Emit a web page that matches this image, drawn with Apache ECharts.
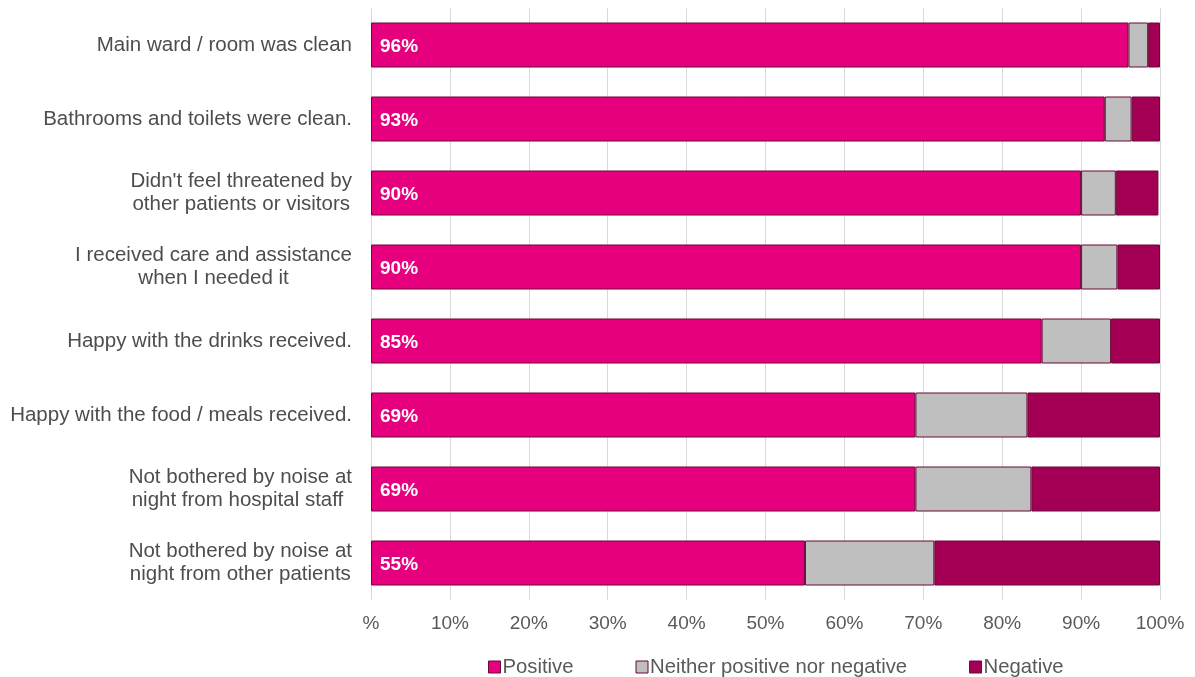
<!DOCTYPE html>
<html>
<head>
<meta charset="utf-8">
<script src="https://cdn.jsdelivr.net/npm/echarts@6/dist/echarts.min.js"></script>
<style>
  html, body { margin: 0; padding: 0; background: #ffffff; }
  #chart { width: 1195px; height: 677px; }
</style>
</head>
<body>
<div id="chart"></div>
<script>
// Survey statements, top to bottom
const categories = [
  "Main ward / room was clean",
  "Bathrooms and toilets were clean.",
  "Didn't feel threatened by\nother patients or visitors",
  "I received care and assistance\nwhen I needed it",
  "Happy with the drinks received.",
  "Happy with the food / meals received.",
  "Not bothered by noise at\nnight from hospital staff ",
  "Not bothered by noise at\nnight from other patients"
];

// Share of responses (%) per statement
const positive = [96, 93, 90, 90, 85, 69, 69, 55];
const neutral  = [2.5, 3.4, 4.4, 4.6, 8.8, 14.2, 14.7, 16.4];
const negative = [1.5, 3.6, 5.4, 5.4, 6.2, 16.8, 16.3, 28.6];

const seriesNames = ["Positive", "Neither positive nor negative", "Negative"];
const xTicks = [0, 10, 20, 30, 40, 50, 60, 70, 80, 90, 100];

const colors = ["#E6007E", "#BFBFBF", "#A30055"];
const font = "'Liberation Sans', Arial, sans-serif";

const chart = echarts.init(document.getElementById('chart'), null, { renderer: 'canvas' });

function barSeries(name, data, color, withLabel) {
  return {
    name: name,
    type: 'bar',
    stack: 'total',
    barWidth: 45,
    data: data,
    itemStyle: { color: color, borderColor: '#6a0838', borderWidth: 1 },
    label: withLabel ? {
      show: true,
      position: 'insideLeft',
      distance: 9,
      offset: [0, 2],
      color: '#ffffff',
      fontFamily: font,
      fontWeight: 'bold',
      fontSize: 19,
      formatter: p => p.value + '%'
    } : { show: false },
    emphasis: { disabled: true }
  };
}

chart.setOption({
  animation: false,
  textStyle: { fontFamily: font },
  grid: { left: 371, right: 35, top: 8, bottom: 77 },
  legend: {
    data: seriesNames,
    left: 483,
    top: 652,
    itemWidth: 12,
    itemHeight: 12,
    itemGap: 62,
    icon: 'rect',
    textStyle: { color: '#595959', fontSize: 20.3, fontFamily: font, padding: [0, 0, 0, -3] },
    itemStyle: { borderColor: '#6a0838', borderWidth: 1 },
    selectedMode: false
  },
  xAxis: {
    type: 'value',
    min: 0,
    max: xTicks[xTicks.length - 1],
    interval: xTicks[1] - xTicks[0],
    axisLine: { show: false },
    axisTick: { show: false },
    splitLine: { show: true, lineStyle: { color: '#d9d9d9', width: 1 } },
    axisLabel: {
      color: '#595959',
      fontSize: 19,
      fontFamily: font,
      margin: 14,
      formatter: v => (v === 0 ? '%' : v + '%')
    }
  },
  yAxis: {
    type: 'category',
    inverse: true,
    data: categories,
    axisLine: { show: true, lineStyle: { color: '#d9d9d9', width: 1 } },
    axisTick: { show: false },
    axisLabel: {
      color: '#4d4d4d',
      fontSize: 20.5,
      fontFamily: font,
      margin: 19,
      align: 'right',
      lineHeight: 23,
      formatter: v => v.split('\n').map(s => '{c|' + s + '}').join('\n'),
      rich: {
        c: { align: 'center', color: '#4d4d4d', fontSize: 20.5, fontFamily: font, lineHeight: 23 }
      }
    }
  },
  series: [
    barSeries(seriesNames[0], positive, colors[0], true),
    barSeries(seriesNames[1], neutral, colors[1], false),
    barSeries(seriesNames[2], negative, colors[2], false)
  ]
});
</script>
</body>
</html>
